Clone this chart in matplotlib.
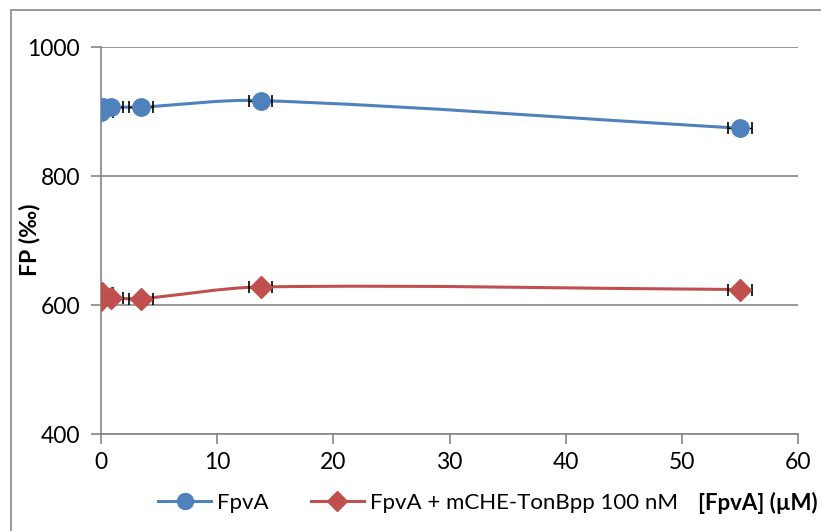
import numpy as np
import matplotlib
matplotlib.use("Agg")
import matplotlib.pyplot as plt
from matplotlib.path import Path
from matplotlib.patches import PathPatch, Rectangle
from matplotlib.lines import Line2D

plt.rcParams['font.family'] = ['Lato', 'DejaVu Sans']

# data
conc = [0.013, 0.054, 0.21, 0.86, 3.44, 13.75, 55.0]
fp_fpva = [899, 906, 907, 907, 907, 917, 874]
fp_complex = [608, 619, 612, 611, 610, 628, 624]
conc_err = [1.0, 1.0, 1.0, 1.0, 1.0, 1.0, 1.0]

labels = ["FpvA", "FpvA + mCHE-TonBpp 100 nM"]
colors = ["#4F81BD", "#C0504D"]
markers = ["o", "D"]
msizes = [12.5, 11.5]


def smooth_path(x, y, sx, sy):
    # excel-like smoothed line, control points scaled by segment lengths (screen units)
    pts = np.column_stack([x, y]).astype(float)
    scr = pts * [sx, sy]
    n = len(pts)

    def seglen(a, b):
        return np.hypot(*(scr[b] - scr[a]))

    verts = [pts[0]]
    codes = [Path.MOVETO]
    for i in range(n - 1):
        i0 = max(i - 1, 0)
        i3 = min(i + 2, n - 1)
        d01, d12, d23 = seglen(i0, i), seglen(i, i + 1), seglen(i + 1, i3)
        f1 = d12 / (d01 + d12) / 1.5 if d01 + d12 > 0 else 0
        f2 = d12 / (d12 + d23) / 1.5 if d12 + d23 > 0 else 0
        c1 = pts[i] + (pts[i + 1] - pts[i0]) * f1 / 2
        c2 = pts[i + 1] - (pts[i3] - pts[i]) * f2 / 2
        verts += [c1, c2, pts[i + 1]]
        codes += [Path.CURVE4] * 3
    return Path(verts, codes)


fig = plt.figure(figsize=(8.21, 5.31), dpi=100)
ax = fig.add_axes([101 / 821, 1 - 434 / 531, 697 / 821, 387 / 531])

# outer chart border
fig.patches.append(Rectangle((11 / 821, -0.1), 1.0, 1 - 10 / 531 + 0.1,
                             transform=fig.transFigure, fill=False,
                             edgecolor="#868686", lw=1.2, zorder=0))

sx, sy = 697 / 60, 387 / 600
for ys, c, m, ms in zip([fp_fpva, fp_complex], colors, markers, msizes):
    ax.add_patch(PathPatch(smooth_path(conc, ys, sx, sy), fill=False, edgecolor=c, lw=2.2, zorder=2))
    ax.errorbar(conc, ys, xerr=conc_err, fmt="none", ecolor="black", elinewidth=1,
                capsize=4, capthick=1.2, zorder=3)
    ax.plot(conc, ys, linestyle="none", marker=m, color=c, markersize=ms, zorder=4)

ax.set_xlim(0, 60)
ax.set_ylim(400, 1000)
ax.set_xticks(range(0, 61, 10))
ax.set_yticks(range(400, 1001, 200))
ax.yaxis.grid(True, color="#868686", lw=1.2)
ax.set_axisbelow(True)
for s in ["top", "right"]:
    ax.spines[s].set_visible(False)
for s in ["left", "bottom"]:
    ax.spines[s].set_color("#868686")
    ax.spines[s].set_linewidth(1.2)
ax.tick_params(axis="both", colors="#868686", labelcolor="black", labelsize=16.5,
               length=7, width=1.2)
ax.tick_params(axis="x", pad=6)
ax.tick_params(axis="y", pad=8)

fig.text(30 / 821, 1 - 240 / 531, "FP (‰)", rotation=90, ha="center", va="center",
         fontsize=16.5, fontweight="bold")

handles = [Line2D([], [], color=c, lw=2.2, marker=m, markersize=ms - 1)
           for c, m, ms in zip(colors, markers, msizes)]
fig.legend(handles, labels, loc="center left", bbox_to_anchor=(158 / 821, 1 - 503 / 531),
           ncol=2, frameon=False, fontsize=16, handlelength=2.4, handletextpad=0.25,
           columnspacing=1.9, borderaxespad=0, borderpad=0)

fig.text(818 / 821, 1 - 503 / 531, "[FpvA] (µM)", ha="right", va="center",
         fontsize=16, fontweight="bold")

fig.savefig("out.png", dpi=100)
